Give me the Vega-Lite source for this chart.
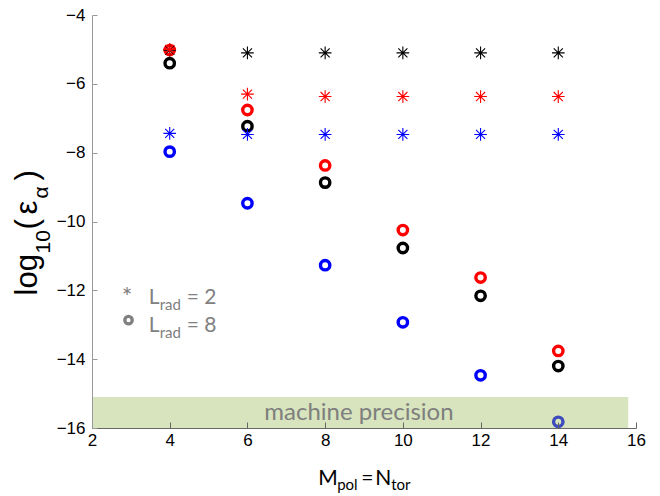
{
  "$schema": "https://vega.github.io/schema/vega-lite/v6.json",
  "autosize": {"type": "none"},
  "width": 544,
  "height": 413,
  "padding": {"left": 92, "top": 15, "right": 24, "bottom": 68},
  "background": "white",
  "config": {"view": {"stroke": null}},
  "data": {"values": [{}]},
  "datasets": {
    "circles": [
      {"M": 4, "eps": -5.02, "series": "red"},
      {"M": 6, "eps": -6.76, "series": "red"},
      {"M": 8, "eps": -8.37, "series": "red"},
      {"M": 10, "eps": -10.25, "series": "red"},
      {"M": 12, "eps": -11.63, "series": "red"},
      {"M": 14, "eps": -13.76, "series": "red"},
      {"M": 4, "eps": -5.40, "series": "black"},
      {"M": 6, "eps": -7.23, "series": "black"},
      {"M": 8, "eps": -8.87, "series": "black"},
      {"M": 10, "eps": -10.77, "series": "black"},
      {"M": 12, "eps": -12.16, "series": "black"},
      {"M": 14, "eps": -14.2, "series": "black"},
      {"M": 4, "eps": -7.97, "series": "blue"},
      {"M": 6, "eps": -9.47, "series": "blue"},
      {"M": 8, "eps": -11.27, "series": "blue"},
      {"M": 10, "eps": -12.93, "series": "blue"},
      {"M": 12, "eps": -14.47, "series": "blue"},
      {"M": 14, "eps": -15.82, "series": "blue"}
    ],
    "stars": [
      {"M": 4, "eps": -5.02, "series": "black"},
      {"M": 6, "eps": -5.1, "series": "black"},
      {"M": 8, "eps": -5.1, "series": "black"},
      {"M": 10, "eps": -5.1, "series": "black"},
      {"M": 12, "eps": -5.1, "series": "black"},
      {"M": 14, "eps": -5.1, "series": "black"},
      {"M": 4, "eps": -7.44, "series": "blue"},
      {"M": 6, "eps": -7.47, "series": "blue"},
      {"M": 8, "eps": -7.47, "series": "blue"},
      {"M": 10, "eps": -7.47, "series": "blue"},
      {"M": 12, "eps": -7.47, "series": "blue"},
      {"M": 14, "eps": -7.47, "series": "blue"},
      {"M": 4, "eps": -5.0, "series": "red"},
      {"M": 6, "eps": -6.3, "series": "red"},
      {"M": 8, "eps": -6.37, "series": "red"},
      {"M": 10, "eps": -6.37, "series": "red"},
      {"M": 12, "eps": -6.37, "series": "red"},
      {"M": 14, "eps": -6.37, "series": "red"}
    ]
  },
  "layer": [
    {
      "data": {"name": "circles"},
      "mark": {"type": "point", "shape": "circle", "filled": false, "size": 88, "strokeWidth": 3.4, "opacity": 1},
      "encoding": {
        "x": {"field": "M", "type": "quantitative",
          "scale": {"domain": [2, 16], "nice": false, "zero": false},
          "axis": {"values": [2, 4, 6, 8, 10, 12, 14, 16], "title": null, "grid": false,
            "domainColor": "#666666", "tickColor": "#666666", "tickSize": -6, "labelPadding": 10,
            "labelFont": "Liberation Sans", "labelFontSize": 17, "labelColor": "#000000", "labelFlush": false, "zindex": 1}},
        "y": {"field": "eps", "type": "quantitative",
          "scale": {"domain": [-16, -4], "nice": false, "zero": false},
          "axis": {"values": [-4, -6, -8, -10, -12, -14, -16], "title": null, "grid": false,
            "domainColor": "#999999", "tickColor": "#999999", "tickSize": -5, "labelPadding": 12,
            "labelFont": "Liberation Sans", "labelFontSize": 17, "labelColor": "#000000", "labelFlush": false, "zindex": 1}},
        "color": {"field": "series", "type": "nominal",
          "scale": {"domain": ["black", "red", "blue"], "range": ["#000000", "#ff0000", "#0000ff"]},
          "legend": null}
      }
    },
    {
      "data": {"name": "stars"},
      "mark": {"type": "point", "shape": "M-1,0L1,0M0,-1L0,1M-0.72,-0.72L0.72,0.72M-0.72,0.72L0.72,-0.72", "filled": false, "size": 160, "strokeWidth": 1.1, "opacity": 1},
      "encoding": {
        "x": {"field": "M", "type": "quantitative"},
        "y": {"field": "eps", "type": "quantitative"},
        "color": {"field": "series", "type": "nominal", "legend": null}
      }
    },
    {
      "mark": {"type": "rect", "fill": "#9bbb59", "opacity": 0.4},
      "encoding": {"x": {"datum": 2}, "x2": {"datum": 15.8}, "y": {"datum": -15.1}, "y2": {"datum": -16}}
    },
    {
      "mark": {"type": "text", "text": "machine precision", "font": "Lato", "fontSize": 24, "color": "#7f7f7f", "align": "center", "baseline": "alphabetic"},
      "encoding": {"x": {"datum": 8.87}, "y": {"datum": -15.77}}
    },
    {
      "mark": {"type": "text", "text": "*", "font": "Lato", "fontSize": 25, "color": "#808080", "align": "center", "baseline": "alphabetic"},
      "encoding": {"x": {"datum": 2.9}, "y": {"datum": -12.45}}
    },
    {
      "mark": {"type": "point", "shape": "circle", "filled": false, "size": 55, "strokeWidth": 3.3, "color": "#808080", "opacity": 1},
      "encoding": {"x": {"datum": 2.94}, "y": {"datum": -12.866}}
    },
    {
      "mark": {"type": "text", "text": "L", "font": "Lato", "fontSize": 21, "color": "#808080", "align": "left", "baseline": "alphabetic"},
      "encoding": {"x": {"datum": 3.46}, "y": {"datum": -12.4}}
    },
    {
      "mark": {"type": "text", "text": "rad", "font": "Lato", "fontSize": 15, "color": "#808080", "align": "left", "baseline": "alphabetic", "dx": 11, "dy": 6},
      "encoding": {"x": {"datum": 3.46}, "y": {"datum": -12.4}}
    },
    {
      "mark": {"type": "text", "text": "= 2", "font": "Lato", "fontSize": 21, "color": "#808080", "align": "left", "baseline": "alphabetic", "dx": 38},
      "encoding": {"x": {"datum": 3.46}, "y": {"datum": -12.4}}
    },
    {
      "mark": {"type": "text", "text": "L", "font": "Lato", "fontSize": 21, "color": "#808080", "align": "left", "baseline": "alphabetic"},
      "encoding": {"x": {"datum": 3.46}, "y": {"datum": -13.215}}
    },
    {
      "mark": {"type": "text", "text": "rad", "font": "Lato", "fontSize": 15, "color": "#808080", "align": "left", "baseline": "alphabetic", "dx": 11, "dy": 6},
      "encoding": {"x": {"datum": 3.46}, "y": {"datum": -13.215}}
    },
    {
      "mark": {"type": "text", "text": "= 8", "font": "Lato", "fontSize": 21, "color": "#808080", "align": "left", "baseline": "alphabetic", "dx": 38},
      "encoding": {"x": {"datum": 3.46}, "y": {"datum": -13.215}}
    },
    {
      "mark": {"type": "text", "text": "M", "font": "Lato", "fontSize": 21, "color": "#000000", "align": "left", "baseline": "alphabetic"},
      "encoding": {"x": {"datum": 7.82}, "y": {"datum": -17.66}}
    },
    {
      "mark": {"type": "text", "text": "pol", "font": "Lato", "fontSize": 15, "color": "#000000", "align": "left", "baseline": "alphabetic", "dx": 19, "dy": 5},
      "encoding": {"x": {"datum": 7.82}, "y": {"datum": -17.66}}
    },
    {
      "mark": {"type": "text", "text": "=", "font": "Lato", "fontSize": 21, "color": "#000000", "align": "left", "baseline": "alphabetic", "dx": 43},
      "encoding": {"x": {"datum": 7.82}, "y": {"datum": -17.66}}
    },
    {
      "mark": {"type": "text", "text": "N", "font": "Lato", "fontSize": 21, "color": "#000000", "align": "left", "baseline": "alphabetic", "dx": 57},
      "encoding": {"x": {"datum": 7.82}, "y": {"datum": -17.66}}
    },
    {
      "mark": {"type": "text", "text": "tor", "font": "Lato", "fontSize": 15, "color": "#000000", "align": "left", "baseline": "alphabetic", "dx": 73, "dy": 5},
      "encoding": {"x": {"datum": 7.82}, "y": {"datum": -17.66}}
    },
    {
      "mark": {"type": "text", "text": "log", "font": "Liberation Sans", "fontSize": 31, "color": "#000000", "align": "left", "baseline": "alphabetic", "angle": 270},
      "encoding": {"x": {"datum": 0.572}, "y": {"datum": -12.15}}
    },
    {
      "mark": {"type": "text", "text": "10", "font": "Liberation Sans", "fontSize": 21, "color": "#000000", "align": "left", "baseline": "alphabetic", "angle": 270, "dx": 42, "dy": 13},
      "encoding": {"x": {"datum": 0.572}, "y": {"datum": -12.15}}
    },
    {
      "mark": {"type": "text", "text": "(", "font": "Liberation Sans", "fontSize": 31, "color": "#000000", "align": "left", "baseline": "alphabetic", "angle": 270, "dx": 66},
      "encoding": {"x": {"datum": 0.572}, "y": {"datum": -12.15}}
    },
    {
      "mark": {"type": "text", "text": "ε", "font": "Liberation Sans", "fontSize": 31, "color": "#000000", "align": "left", "baseline": "alphabetic", "angle": 270, "dx": 81},
      "encoding": {"x": {"datum": 0.572}, "y": {"datum": -12.15}}
    },
    {
      "mark": {"type": "text", "text": "α", "font": "Liberation Sans", "fontSize": 21, "color": "#000000", "align": "left", "baseline": "alphabetic", "angle": 270, "dx": 97, "dy": 11},
      "encoding": {"x": {"datum": 0.572}, "y": {"datum": -12.15}}
    },
    {
      "mark": {"type": "text", "text": ")", "font": "Liberation Sans", "fontSize": 31, "color": "#000000", "align": "left", "baseline": "alphabetic", "angle": 270, "dx": 115},
      "encoding": {"x": {"datum": 0.572}, "y": {"datum": -12.15}}
    }
  ]
}
